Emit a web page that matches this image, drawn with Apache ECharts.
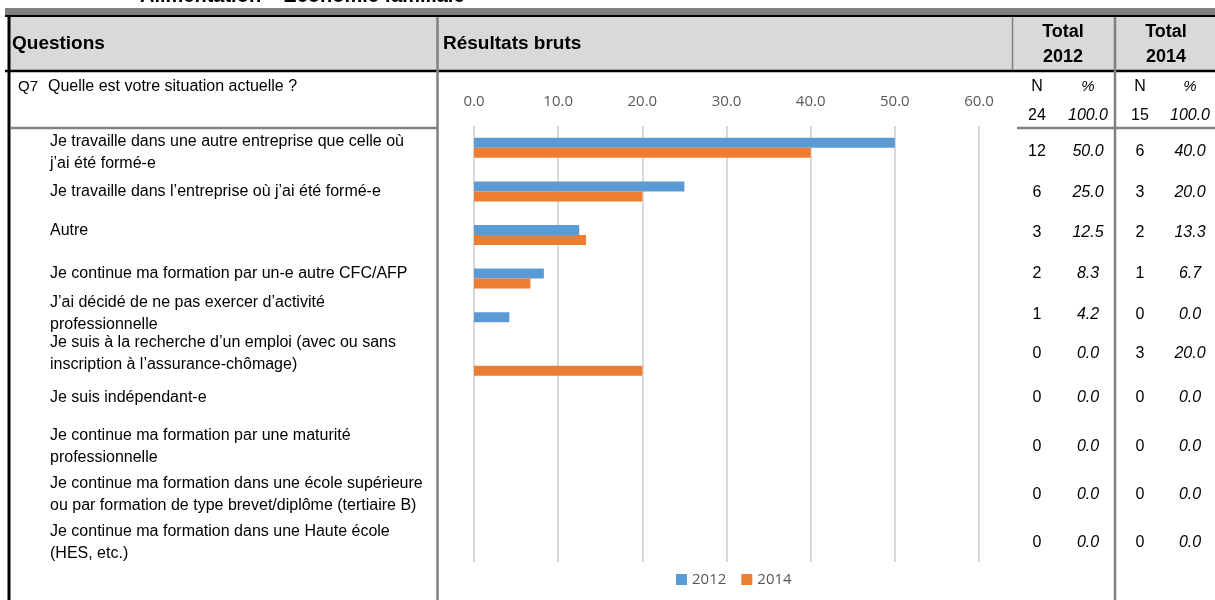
<!DOCTYPE html>
<html>
<head>
<meta charset="utf-8">
<title>Q7 - Situation actuelle</title>
<script src="https://cdn.jsdelivr.net/npm/echarts@6/dist/echarts.min.js"></script>
<style>
  html, body { margin: 0; padding: 0; background: #fff; }
  #chart { width: 1215px; height: 600px; }
</style>
</head>
<body>
<div id="chart"></div>
<script>
var categories = [
  'Je travaille dans une autre entreprise que celle où\nj\u2019ai été formé-e',
  'Je travaille dans l\u2019entreprise où j\u2019ai été formé-e',
  'Autre',
  'Je continue ma formation par un-e autre CFC/AFP',
  'J\u2019ai décidé de ne pas exercer d\u2019activité\nprofessionnelle',
  'Je suis à la recherche d\u2019un emploi (avec ou sans\ninscription à l\u2019assurance-chômage)',
  'Je suis indépendant-e',
  'Je continue ma formation par une maturité\nprofessionnelle',
  'Je continue ma formation dans une école supérieure\nou par formation de type brevet/diplôme (tertiaire B)',
  'Je continue ma formation dans une Haute école\n(HES, etc.)'
];
var pct2012 = [50.0, 25.0, 12.5, 8.3, 4.2, 0.0, 0.0, 0.0, 0.0, 0.0];
var pct2014 = [40.0, 20.0, 13.3, 6.7, 0.0, 20.0, 0.0, 0.0, 0.0, 0.0];
var n2012 = [12, 6, 3, 2, 1, 0, 0, 0, 0, 0];
var n2014 = [6, 3, 2, 1, 0, 3, 0, 0, 0, 0];
var totalN = [24, 15];
var totalPct = [100.0, 100.0];
var years = ['2012', '2014'];
var xTicks = [0, 10, 20, 30, 40, 50, 60];

// mise en page des lignes du tableau (pixels)
var labelY = [142, 192, 231, 274, 303, 343, 398, 436, 484, 532];
var valueY = [152, 193, 233, 274, 315, 354, 398, 447, 495, 543];

var FONT = 'Liberation Sans, Arial, sans-serif';
var GRAY = '#808080';

var chart = echarts.init(document.getElementById('chart'));

function txt(x, y, s, opt) {
  opt = opt || {};
  return {
    type: 'text', x: x, y: y, silent: true, z: 10,
    style: {
      text: s,
      fill: opt.fill || '#000',
      font: (opt.style || 'normal') + ' ' + (opt.weight || 'normal') + ' ' + (opt.size || 14) + 'px ' + FONT,
      align: opt.align || 'left',
      verticalAlign: opt.va || 'middle',
      lineHeight: opt.lh || 22
    }
  };
}
function line(x1, y1, x2, y2, color, w) {
  return {
    type: 'line', silent: true, z: 5,
    shape: { x1: x1, y1: y1, x2: x2, y2: y2 },
    style: { stroke: color, lineWidth: w }
  };
}

var g = [];
// cadre et en-tête
g.push(txt(140, -4, 'Alimentation \u2013 Economie familiale', { weight: 'bold', size: 20 }));
g.push({ type: 'rect', silent: true, z: 1, shape: { x: 5, y: 8, width: 1210, height: 7 }, style: { fill: GRAY } });
g.push({ type: 'rect', silent: true, z: 1, shape: { x: 8, y: 17, width: 1207, height: 53 }, style: { fill: '#d9d9d9' } });
g.push(line(5, 16, 1215, 16, '#000', 2));
g.push(line(5, 71, 1215, 71, '#000', 2.5));
g.push(line(9, 15, 9, 600, '#000', 3));
g.push(line(437.5, 17, 437.5, 600, GRAY, 2.5));
g.push(line(1012.5, 17, 1012.5, 70, GRAY, 1.5));
g.push(line(1115, 17, 1115, 600, GRAY, 2.5));
g.push(line(10, 128, 437, 128, GRAY, 2.5));
g.push(line(1017, 128, 1215, 128, GRAY, 2.5));

g.push(txt(12, 44, 'Questions', { weight: 'bold', size: 19 }));
g.push(txt(443, 44, 'Résultats bruts', { weight: 'bold', size: 19 }));
var totX = [1063, 1166];
years.forEach(function (y, i) {
  g.push(txt(totX[i], 32, 'Total', { weight: 'bold', size: 18, align: 'center' }));
  g.push(txt(totX[i], 57, y, { weight: 'bold', size: 18, align: 'center' }));
});

g.push(txt(18, 87, 'Q7', { size: 15 }));
g.push(txt(48, 87, 'Quelle est votre situation actuelle ?', { size: 16 }));

// colonnes N / %
var nX = [1037, 1140];
var pX = [1088, 1190];
for (var k = 0; k < 2; k++) {
  g.push(txt(nX[k], 87, 'N', { size: 16, align: 'center' }));
  g.push(txt(pX[k], 87, '%', { size: 15, style: 'italic', align: 'center' }));
  g.push(txt(nX[k], 116, String(totalN[k]), { size: 16, align: 'center' }));
  g.push(txt(pX[k], 116, totalPct[k].toFixed(1), { size: 16, style: 'italic', align: 'center' }));
}

categories.forEach(function (c, i) {
  g.push(txt(50, labelY[i] - 11, c, { size: 16, va: 'top', lh: 22 }));
  g.push(txt(nX[0], valueY[i], String(n2012[i]), { size: 16, align: 'center' }));
  g.push(txt(pX[0], valueY[i], pct2012[i].toFixed(1), { size: 16, style: 'italic', align: 'center' }));
  g.push(txt(nX[1], valueY[i], String(n2014[i]), { size: 16, align: 'center' }));
  g.push(txt(pX[1], valueY[i], pct2014[i].toFixed(1), { size: 16, style: 'italic', align: 'center' }));
});

var option = {
  animation: false,
  backgroundColor: '#fff',
  grid: { left: 474, right: 236, top: 126, bottom: 38, containLabel: false },
  legend: {
    data: years,
    left: 671,
    top: 567,
    icon: 'rect',
    itemWidth: 11,
    itemHeight: 11,
    itemGap: 15,
    textStyle: { color: '#595959', fontSize: 15, fontFamily: 'Open Sans, sans-serif' }
  },
  xAxis: {
    type: 'value',
    position: 'top',
    min: xTicks[0],
    max: xTicks[xTicks.length - 1],
    interval: 10,
    axisLine: { show: false },
    axisTick: { show: false },
    axisLabel: {
      margin: 17,
      color: '#595959',
      fontSize: 15,
      fontFamily: 'Open Sans, sans-serif',
      formatter: function (v) { return v.toFixed(1); }
    },
    splitLine: { lineStyle: { color: '#d9d9d9', width: 2 } }
  },
  yAxis: {
    type: 'category',
    inverse: true,
    data: categories,
    axisLine: { show: false },
    axisTick: { show: false },
    axisLabel: { show: false },
    splitLine: { show: false }
  },
  series: [
    { name: years[0], type: 'bar', data: pct2012, barWidth: 10, barGap: '0%', itemStyle: { color: '#5B9BD5' } },
    { name: years[1], type: 'bar', data: pct2014, barWidth: 10, barGap: '0%', itemStyle: { color: '#ED7D31' } }
  ],
  graphic: g
};

chart.setOption(option);
</script>
</body>
</html>
